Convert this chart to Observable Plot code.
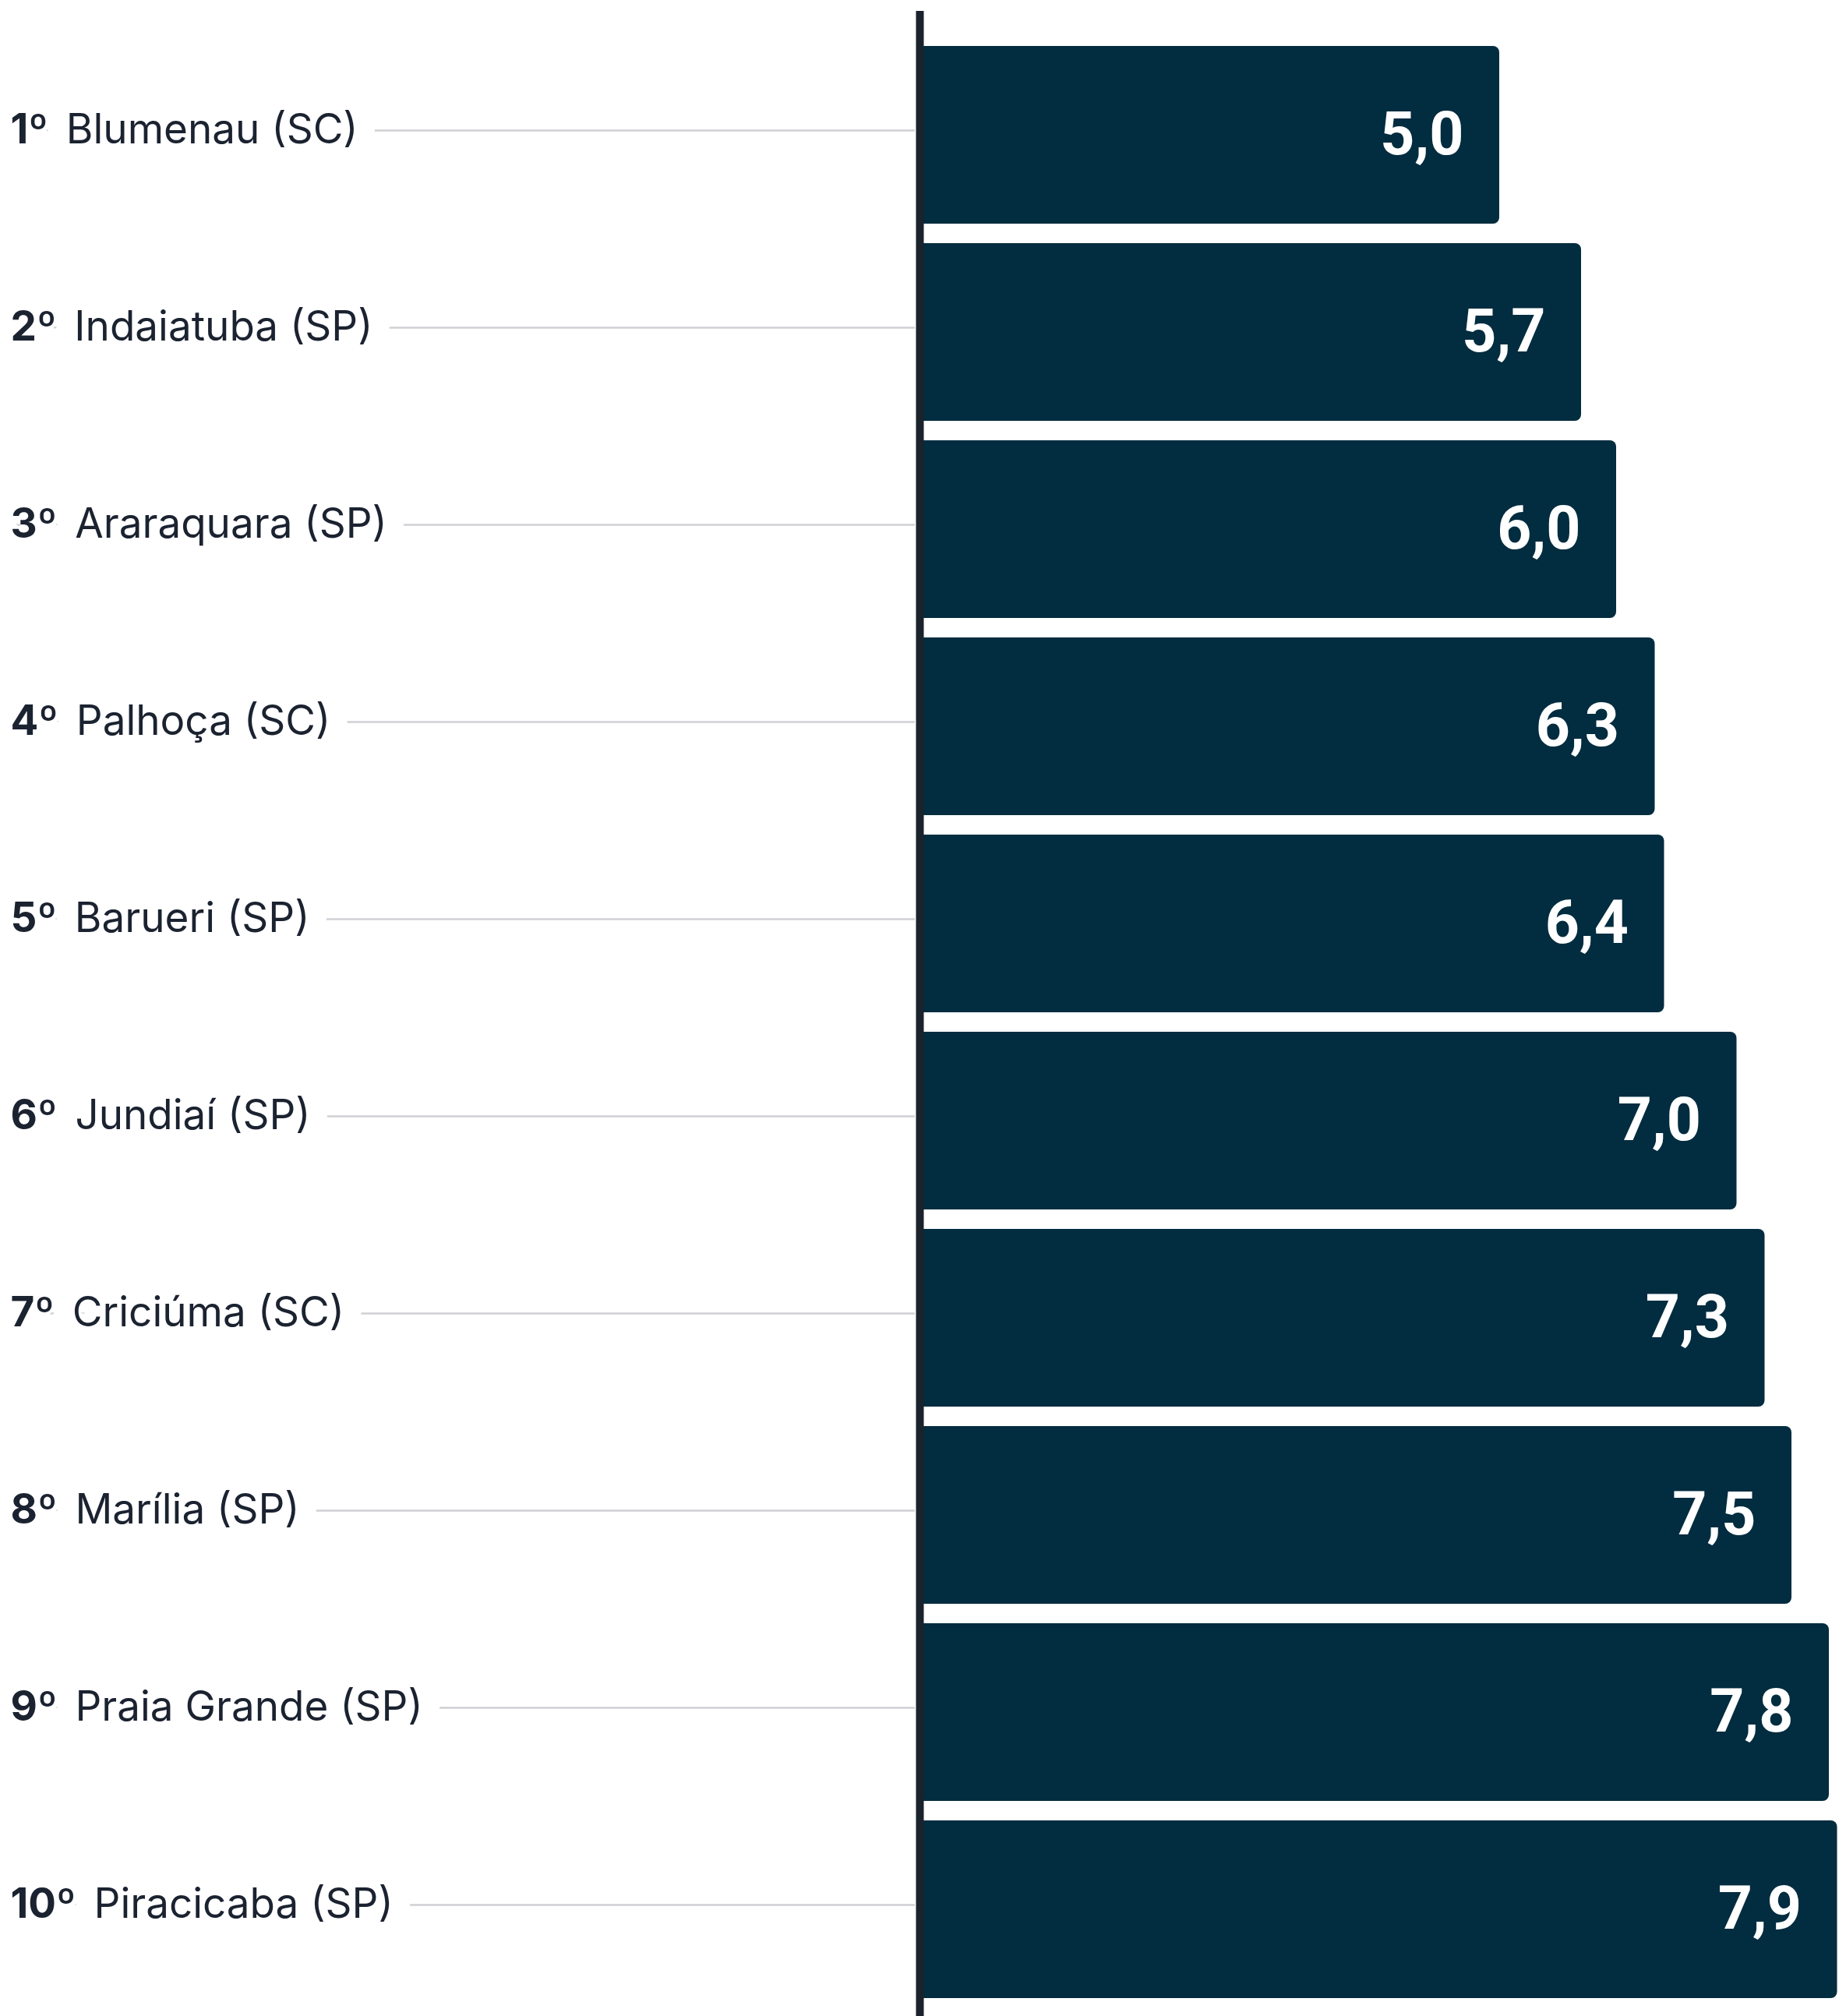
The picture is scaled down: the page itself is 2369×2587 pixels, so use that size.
<!DOCTYPE html>
<html><head><meta charset="utf-8">
<script src="https://cdn.jsdelivr.net/npm/d3@7"></script>
<script src="https://cdn.jsdelivr.net/npm/@observablehq/plot@0.6"></script>
<style>html,body{margin:0;padding:0;background:#fff} svg{display:block}</style>
</head><body><div id="chart"></div>
<script>
const ranks = ["1º", "2º", "3º", "4º", "5º", "6º", "7º", "8º", "9º", "10º"];
const cities = ["Blumenau (SC)", "Indaiatuba (SP)", "Araraquara (SP)", "Palhoça (SC)", "Barueri (SP)", "Jundiaí (SP)", "Criciúma (SC)", "Marília (SP)", "Praia Grande (SP)", "Piracicaba (SP)"];
// bar lengths (labels show them rounded to one decimal)
const values = [5.0, 5.7, 6.0, 6.33, 6.41, 7.03, 7.27, 7.5, 7.82, 7.89];

const rows = cities.map((c, i) => ({rank: ranks[i], city: c, value: values[i]}));
const fmt = v => v.toFixed(1).replace(".", ",");
const leaderStart = -8; // far left, beyond the frame edge

const plot = Plot.plot({
  width: 2369, height: 2587,
  marginTop: 14, marginRight: 0, marginBottom: 0, marginLeft: 0,
  style: {background: "#fff", fontFamily: "Inter, sans-serif"},
  x: {domain: [0, 8], range: [1174, 2374], axis: null},
  y: {domain: cities, range: [33, 2589], padding: 0.1, axis: null},
  marks: [
    Plot.ruleY(rows, {y: "city", x1: leaderStart, x2: 0, dy: -6, stroke: "#cfd0d4", strokeWidth: 2.5}),
    Plot.text(rows, {y: "city", text: d => d.rank + " " + d.city, frameAnchor: "left", dx: 13, dy: -6,
      textAnchor: "start", fontSize: 53, fill: "#1b2230", stroke: "white", strokeWidth: 54,
      strokeLinejoin: "round"}),
    Plot.barX(rows, {y: "city", x: "value", fill: "#022c3f", rx: 8, insetLeft: 2}),
    Plot.ruleX([0], {dx: 6, stroke: "#1a222c", strokeWidth: 10}),
    Plot.text(rows, {y: "city", x: "value", text: d => fmt(d.value), textAnchor: "end", dx: -46,
      fill: "white", fontSize: 77, fontWeight: 700, fontFamily: "Roboto, sans-serif"})
  ]
});

d3.select(plot).selectAll('text').filter(function() { return this.textContent.includes("º"); }).each(function() {
  const t = this.textContent;
  const i = t.indexOf(" ");
  const sel = d3.select(this);
  sel.text(null);
  sel.append("tspan").attr("font-weight", 700).text(t.slice(0, i));
  sel.append("tspan").attr("dx", 8).text(" " + t.slice(i + 1));
});

document.getElementById("chart").appendChild(plot);
</script>
</body></html>
